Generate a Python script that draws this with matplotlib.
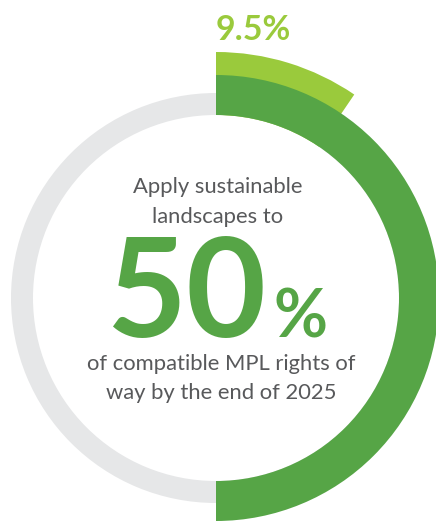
import matplotlib
matplotlib.use("Agg")
import matplotlib.pyplot as plt
from matplotlib.patches import Wedge

# Data
target_pct = 50      # dark green arc (goal)
current_pct = 9.5    # light green arc (progress)
current_label = "9.5%"
big_number = "50"
big_suffix = "%"
top_lines = ["Apply sustainable", "landscapes to"]
bottom_lines = ["of compatible MPL rights of", "way by the end of 2025"]

W, H = 436, 522
fig = plt.figure(figsize=(W / 100, H / 100), dpi=100)
ax = fig.add_axes([0, 0, 1, 1])
ax.set_xlim(0, W)
ax.set_ylim(0, H)
ax.set_aspect("auto")
ax.axis("off")

def px(v):
    return v * 0.72

cx, cy = 216, H - 298
r_in, r_grey, r_green, r_light = 183, 205, 223, 246

dark = "#56a546"
light = "#9aca3c"
grey = "#e6e7e8"
txt = "#58595b"

# grey full ring
ax.add_patch(Wedge((cx, cy), r_grey, 0, 360, width=r_grey - r_in, color=grey, lw=0))
# light green progress arc (clockwise from 12 o'clock)
a_cur = current_pct / 100 * 360
ax.add_patch(Wedge((cx, cy), r_light, 90 - a_cur, 90, width=r_light - r_in, color=light, lw=0))
# dark green target arc
a_tgt = target_pct / 100 * 360
ax.add_patch(Wedge((cx, cy), r_green, 90 - a_tgt, 90, width=r_green - r_in, color=dark, lw=0))

ax.text(216, H - 40, current_label, color=light, fontsize=px(34), fontweight="bold",
        family="Lato", ha="left", va="baseline")

for i, line in enumerate(top_lines):
    ax.text(218, H - (193 + 30 * i), line, color=txt, fontsize=px(22), fontweight="normal",
            family="Lato", ha="center", va="baseline")

ax.text(266, H - 337, big_number, color=dark, fontsize=px(138), fontweight="bold",
        family="Lato", ha="right", va="baseline")
ax.text(273, H - 337, big_suffix, color=dark, fontsize=px(66), fontweight="bold",
        family="Lato", ha="left", va="baseline")

for i, line in enumerate(bottom_lines):
    ax.text(221, H - (370 + 29 * i), line, color=txt, fontsize=px(22), fontweight="normal",
            family="Lato", ha="center", va="baseline")

fig.savefig("out.png", dpi=100)
